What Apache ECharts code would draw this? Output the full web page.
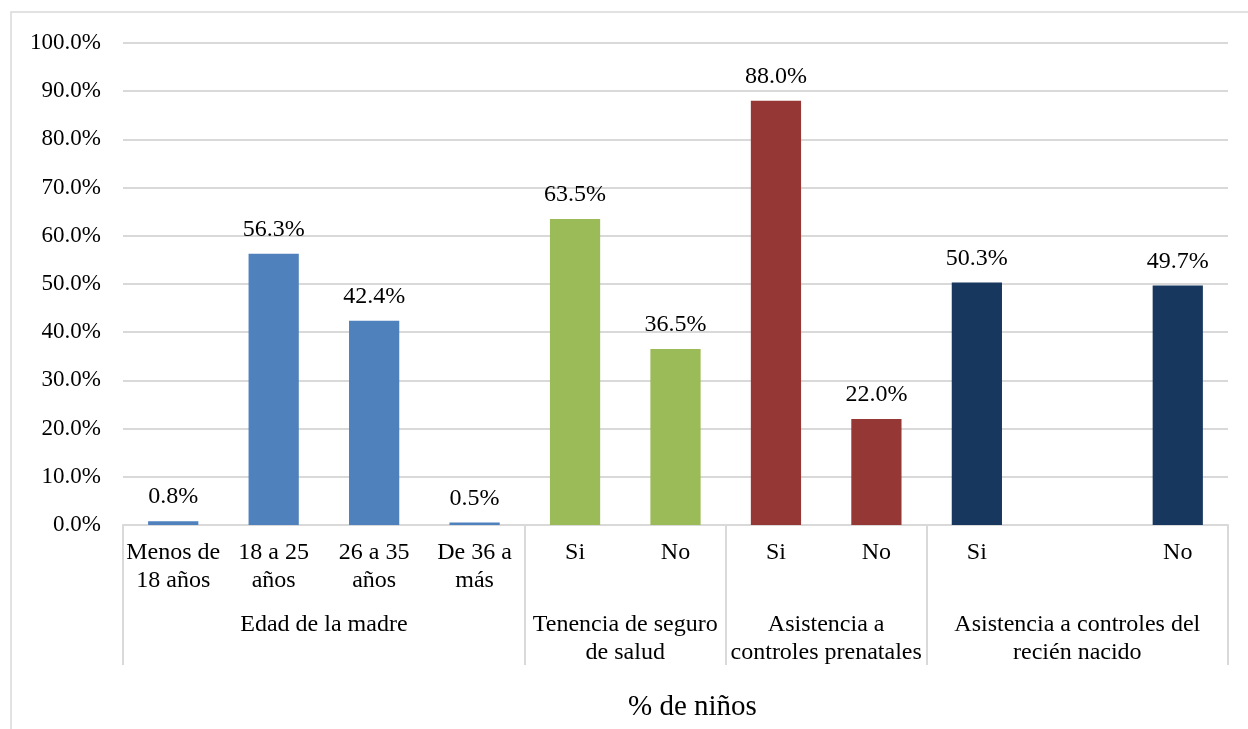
<!DOCTYPE html>
<html>
<head>
<meta charset="utf-8">
<script src="https://cdn.jsdelivr.net/npm/echarts@6/dist/echarts.min.js"></script>
<style>html,body{margin:0;padding:0;background:#fff}#c{width:1248px;height:729px}</style>
</head>
<body>
<div id="c"></div>
<script>
const groupNames = ['Edad de la madre', 'Tenencia de seguro\nde salud', 'Asistencia a\ncontroles prenatales', 'Asistencia a controles del\nrecién nacido'];
const groupSizes = [4, 2, 2, 3];
const groupColors = ['#4F81BD', '#9BBB59', '#953735', '#17375E'];
const categories = ['Menos de\n18 años', '18 a 25\naños', '26 a 35\naños', 'De 36 a\nmás', 'Si', 'No', 'Si', 'No', 'Si', '', 'No'];
const values = [0.8, 56.3, 42.4, 0.5, 63.5, 36.5, 88.0, 22.0, 50.3, null, 49.7];
const yTicks = [0, 10, 20, 30, 40, 50, 60, 70, 80, 90, 100];
const title = '% de niños';

// group boundaries and centers in category-slot units
const bounds = [0];
groupSizes.forEach(s => bounds.push(bounds[bounds.length - 1] + s));
const centers = groupSizes.map((s, i) => bounds[i] + s / 2);
const colorOf = [];
groupSizes.forEach((s, i) => { for (let k = 0; k < s; k++) colorOf.push(groupColors[i]); });

const FONT = 'Liberation Serif';
const chart = echarts.init(document.getElementById('c'));
chart.setOption({
  animation: false,
  backgroundColor: '#fff',
  textStyle: { fontFamily: FONT },
  graphic: [{
    type: 'rect', shape: { x: 11, y: 12, width: 1400, height: 900 },
    style: { fill: 'none', stroke: '#d9d9d9', lineWidth: 1.5 }, silent: true, z: -10
  }],
  title: {
    text: title, left: 623, top: 688,
    textStyle: { fontFamily: FONT, fontSize: 29, fontWeight: 'normal', color: '#000' }
  },
  grid: { left: 123, right: 20, top: 43, bottom: 204, containLabel: false },
  xAxis: [{
    type: 'category', data: categories, position: 'bottom',
    axisLine: { show: true, lineStyle: { color: '#d9d9d9', width: 2 } },
    axisTick: { show: false },
    axisLabel: { fontFamily: FONT, fontSize: 24, color: '#000', lineHeight: 28, margin: 14, interval: 0 }
  }, {
    type: 'value', min: 0, max: bounds[bounds.length - 1], position: 'bottom',
    axisLine: { show: false },
    splitLine: { show: false },
    axisTick: { show: true, customValues: bounds, length: 140, lineStyle: { color: '#d9d9d9', width: 2 } },
    axisLabel: {
      show: true, customValues: centers, fontFamily: FONT, fontSize: 24, color: '#000', lineHeight: 28, margin: 86,
      formatter: v => { const i = centers.findIndex(c => Math.abs(c - v) < 1e-6); return i >= 0 ? groupNames[i] : ''; }
    }
  }],
  yAxis: {
    type: 'value', min: yTicks[0], max: yTicks[yTicks.length - 1], interval: 10,
    axisLine: { show: false }, axisTick: { show: false },
    splitLine: { lineStyle: { color: '#d9d9d9', width: 2 } },
    axisLabel: { fontFamily: FONT, fontSize: 23, color: '#000', margin: 22, formatter: v => v.toFixed(1) + '%' }
  },
  series: [{
    type: 'bar', xAxisIndex: 0, barWidth: '50%',
    data: values.map((v, i) => ({ value: v, itemStyle: { color: colorOf[i] } })),
    label: {
      show: true, position: 'top', distance: 12, fontFamily: FONT, fontSize: 24, color: '#000',
      formatter: p => (p.value == null ? '' : p.value.toFixed(1) + '%')
    }
  }]
});
</script>
</body>
</html>
